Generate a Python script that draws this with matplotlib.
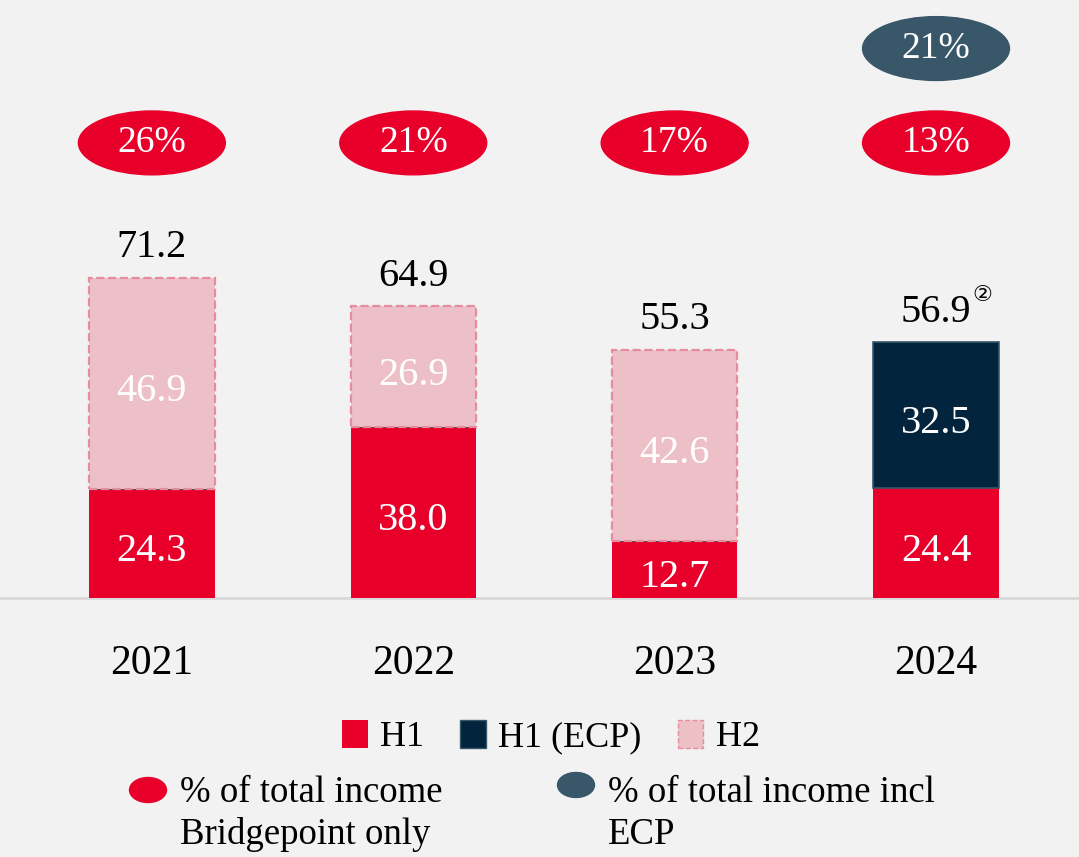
import numpy as np
import matplotlib.pyplot as plt
from matplotlib.patches import Patch, Ellipse

years = ['2021', '2022', '2023', '2024']
h1 = [24.3, 38.0, 12.7, 24.4]
h1_ecp = [0, 0, 0, 32.5]
h2 = [46.9, 26.9, 42.6, 0]
totals = ['71.2', '64.9', '55.3', '56.9']
pct_bp = ['26%', '21%', '17%', '13%']
pct_ecp = [None, None, None, '21%']

RED = '#E8002A'
PINK = '#EDC0C7'
PINK_EDGE = '#E58C9E'
NAVY = '#02243C'
TEAL = '#385769'
BG = '#F2F2F2'

plt.rcParams['font.family'] = ['Liberation Serif', 'DejaVu Sans']

fig = plt.figure(figsize=(10.79, 8.57), dpi=100, facecolor=BG)
ax = fig.add_axes([0, 0, 1, 1])
ax.set_facecolor(BG)
ax.set_xlim(-0.581, 3.547)
ax.set_ylim(-57.6, 133.1)
ax.axis('off')

x = np.arange(len(years))
w = 0.48
h1 = np.array(h1)
h1_ecp = np.array(h1_ecp)
h2 = np.array(h2)

ax.axhline(0, color='#D9D9D9', lw=2, zorder=1)
ax.bar(x, h1, w, color=RED, zorder=2)
ax.bar(x, h1_ecp, w, bottom=h1, color=NAVY, edgecolor=TEAL, lw=1.2, zorder=2)
mask = h2 > 0
ax.bar(x[mask], h2[mask], w, bottom=h1[mask], color=PINK, edgecolor=PINK_EDGE,
       lw=1.6, ls='--', zorder=3)

dy = -1.8  # labels sit a bit below the segment middle
for i in range(len(years)):
    ax.text(x[i], h1[i] / 2 + dy, f'{h1[i]:.1f}', color='white', fontsize=29,
            ha='center', va='center', zorder=5)
    if h2[i] > 0:
        ax.text(x[i], h1[i] + h2[i] / 2 + dy, f'{h2[i]:.1f}', color='white',
                fontsize=29, ha='center', va='center', zorder=5)
    if h1_ecp[i] > 0:
        ax.text(x[i], h1[i] + h1_ecp[i] / 2 + dy, f'{h1_ecp[i]:.1f}', color='white',
                fontsize=29, ha='center', va='center', zorder=5)
    top = h1[i] + h2[i] + h1_ecp[i]
    ax.annotate(totals[i], (x[i], top), xytext=(0, 15), textcoords='offset points',
                ha='center', va='baseline', fontsize=29, color='black')
    if i == 3:
        ax.annotate('②', (x[i], top), xytext=(26, 30), textcoords='offset points',
                    ha='left', va='baseline', fontsize=16, color='black',
                    family=['DejaVu Sans'])
    ax.text(x[i], -14.5, years[i], fontsize=30, ha='center', va='center')

    ax.add_patch(Ellipse((x[i], 101.3), 0.562, 14.2, color=RED, zorder=4))
    ax.text(x[i], 101.3, pct_bp[i], color='white', fontsize=27,
            ha='center', va='center', zorder=5)
    if pct_ecp[i]:
        ax.add_patch(Ellipse((x[i], 122.3), 0.562, 14.2, color=TEAL, zorder=4))
        ax.text(x[i], 122.3, pct_ecp[i], color='white', fontsize=27,
                ha='center', va='center', zorder=5)

handles = [Patch(facecolor=RED, label='H1'),
           Patch(facecolor=NAVY, edgecolor=TEAL, label='H1 (ECP)'),
           Patch(facecolor=PINK, edgecolor=PINK_EDGE, ls='--', label='H2')]
fig.legend(handles=handles, loc='center', bbox_to_anchor=(551 / 1079, 1 - 737 / 857),
           ncol=3, frameon=False, fontsize=26, handlelength=0.7, handleheight=0.85,
           handletextpad=0.35, columnspacing=1.0)

for cx, cy, col, txt, tx in [(148, 790, RED, '% of total income\nBridgepoint only', 180),
                             (576, 785, TEAL, '% of total income incl\nECP', 608)]:
    ax.add_patch(Ellipse((cx / 1079, 1 - cy / 857), 37 / 1079, 25 / 857,
                         color=col, transform=ax.transAxes, clip_on=False))
    ax.text(tx / 1079, 1 - 776 / 857, txt, transform=ax.transAxes, fontsize=26.5,
            ha='left', va='top', linespacing=1.25)

fig.savefig('out.png', dpi=100, facecolor=BG)
